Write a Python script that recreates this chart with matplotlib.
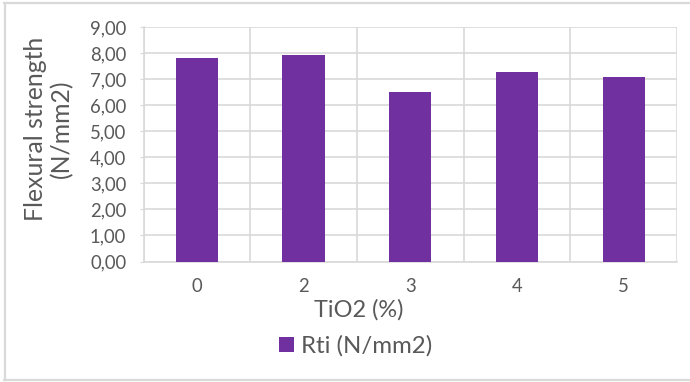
import matplotlib.pyplot as plt
from matplotlib.font_manager import FontProperties
from matplotlib.textpath import TextPath
from matplotlib.lines import Line2D
import numpy as np

categories = ["0", "2", "3", "4", "5"]
values = [7.81, 7.92, 6.50, 7.29, 7.10]
y_ticks = [0, 1, 2, 3, 4, 5, 6, 7, 8, 9]

FAMILY = 'Lato'
plt.rcParams['font.family'] = [FAMILY, 'DejaVu Sans']
txt = '#595959'
grid = '#d9d9d9'
W, H, DPI = 690, 382, 100


def fit_size(s, target_px):
    # font size (pt) whose ink width is target_px
    w = TextPath((0, 0), s, size=1, prop=FontProperties(family=FAMILY)).get_extents().width
    return target_px * 72 / DPI / w


tick_fs = fit_size("9,00", 35)
ylab_fs = fit_size("Flexural strength", 180)
xlab_fs = fit_size("TiO2 (%)", 88)
leg_fs = fit_size("Rti (N/mm2)", 128)

fig = plt.figure(figsize=(W / DPI, H / DPI), dpi=DPI)
left, right, top, bottom = 143.5, 677, 27, 261.5
ax = fig.add_axes([left / W, 1 - bottom / H, (right - left) / W, (bottom - top) / H])

x = np.arange(len(categories))
ax.bar(x, values, width=0.395, color='#7030A0', label='Rti (N/mm2)', zorder=3)

ax.set_xlim(-0.5, len(categories) - 0.5)
ax.set_ylim(0, 9)
ax.set_yticks(y_ticks)
ax.set_yticklabels([f"{v:.2f}".replace('.', ',') for v in y_ticks])
ax.set_xticks(x)
ax.set_xticklabels(categories)
ax.set_xticks(np.arange(len(categories) + 1) - 0.5, minor=True)

ax.grid(axis='y', color=grid, linewidth=1.2, zorder=0)
ax.grid(axis='x', which='minor', color=grid, linewidth=1.2, zorder=0)
for s in ['top', 'right']:
    ax.spines[s].set_visible(False)
ax.spines['left'].set_color(grid)
ax.spines['bottom'].set_color(grid)
ax.spines['left'].set_linewidth(1.2)
ax.spines['bottom'].set_linewidth(1.2)
ax.tick_params(axis='y', which='major', length=3, color=grid, labelcolor=txt, labelsize=tick_fs, pad=9.5)
ax.tick_params(axis='x', which='major', length=0, labelcolor=txt, labelsize=tick_fs, pad=12)
ax.tick_params(axis='x', which='minor', length=0)

# y axis title, two lines
fig.text(36 / W, 1 - 129 / H, "Flexural strength", rotation=90, ha='center', va='center',
         color=txt, fontsize=ylab_fs)
fig.text(62 / W, 1 - 129 / H, "(N/mm2)", rotation=90, ha='center', va='center',
         color=txt, fontsize=ylab_fs)

# x axis title
fig.text(359 / W, 1 - 317 / H, "TiO2 (%)", ha='center', va='baseline', color=txt, fontsize=xlab_fs)

ax.legend(loc='center', bbox_to_anchor=(356 / W, 1 - 346 / H), bbox_transform=fig.transFigure,
          frameon=False, fontsize=leg_fs, labelcolor=txt, handlelength=0.6, handleheight=0.6,
          handletextpad=0.32, borderpad=0)

# chart area border
for xs, ys in [([4.5, 4.5], [3, 380]), ([4, W], [3, 3]), ([4, W], [380, 380])]:
    fig.lines.append(Line2D([v / W for v in xs], [1 - v / H for v in ys], transform=fig.transFigure,
                            color=grid, linewidth=1.6))

fig.savefig('out.png', dpi=DPI)
